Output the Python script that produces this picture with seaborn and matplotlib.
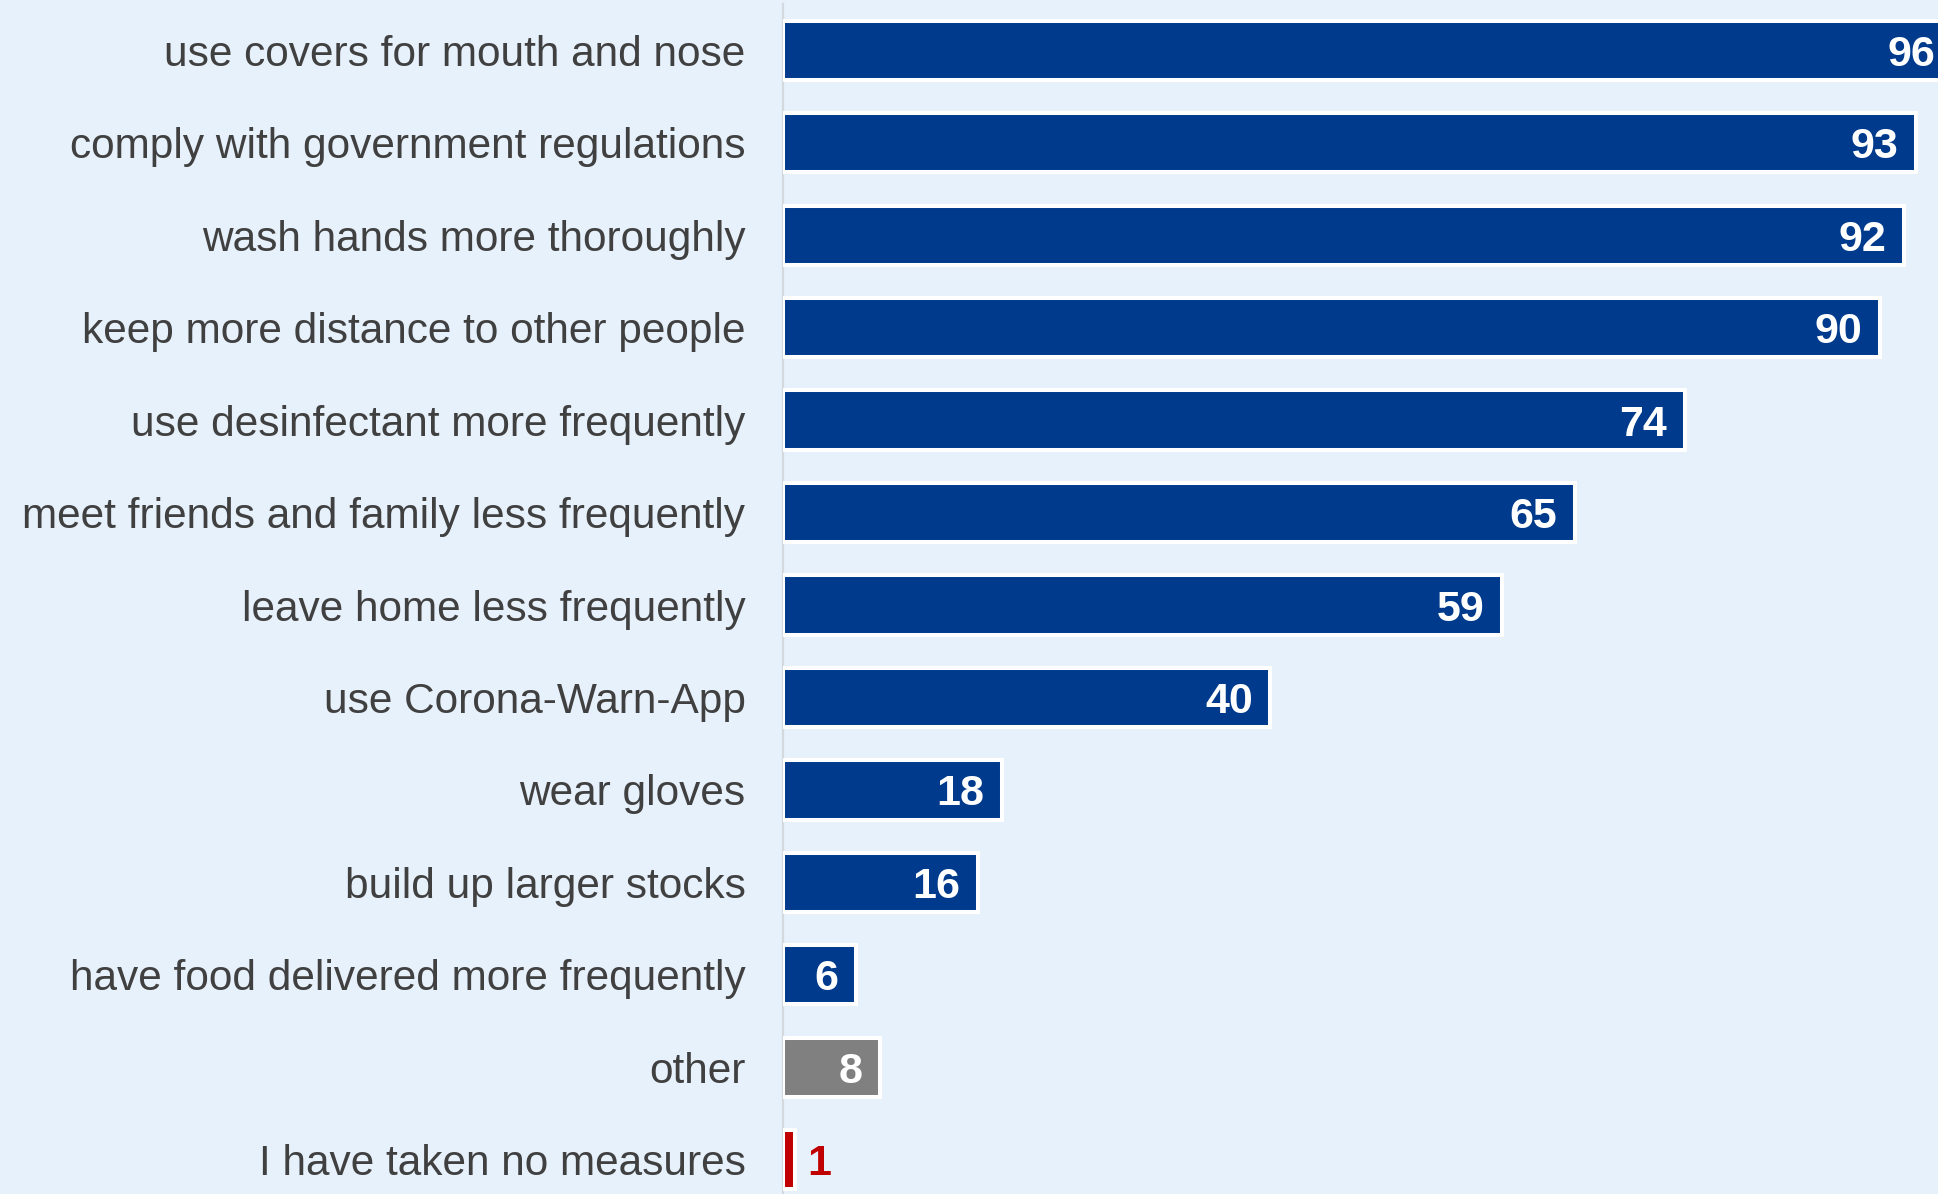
import matplotlib
matplotlib.use("Agg")
import matplotlib.pyplot as plt
import seaborn as sns
import pandas as pd

categories = [
    "use covers for mouth and nose",
    "comply with government regulations",
    "wash hands more thoroughly",
    "keep more distance to other people",
    "use desinfectant more frequently",
    "meet friends and family less frequently",
    "leave home less frequently",
    "use Corona-Warn-App",
    "wear gloves",
    "build up larger stocks",
    "have food delivered more frequently",
    "other",
    "I have taken no measures",
]
values = [96, 93, 92, 90, 74, 65, 59, 40, 18, 16, 6, 8, 1]
BLUE = "#003a8c"
GRAY = "#808080"
RED = "#c00000"
bar_colors = [BLUE] * 11 + [GRAY, RED]

BG = "#e7f1fb"
sns.set_theme(style="white")
plt.rcParams["font.family"] = ["Liberation Sans", "DejaVu Sans"]

df = pd.DataFrame({"category": categories, "value": values})

fig = plt.figure(figsize=(19.38, 11.94), dpi=100, facecolor=BG)
ax = fig.add_axes([783 / 1938, 0, 1 - 783 / 1938, 1 - 4 / 1194])
ax.set_facecolor(BG)

sns.barplot(data=df, x="value", y="category", hue="category",
            palette=bar_colors, legend=False, orient="h", width=0.64,
            saturation=1, edgecolor="white", linewidth=2.9, ax=ax, zorder=2)

ax.set_xlim(0, 94.8)
ax.set_ylim(12.37, -0.5)
ax.set_xlabel("")
ax.set_ylabel("")
ax.set_xticks([])
ax.tick_params(axis="y", length=0, pad=27, labelsize=30.5, labelcolor="#404040")

for s in ["top", "right", "bottom"]:
    ax.spines[s].set_visible(False)
ax.spines["left"].set_color("#d4d9df")
ax.spines["left"].set_linewidth(1.6)
ax.spines["left"].set_zorder(1)

for i, (v, c) in enumerate(zip(values, bar_colors)):
    if c == RED:
        ax.text(v + 1.0, i, f"{v}", ha="left", va="center_baseline",
                color=RED, fontsize=31, fontweight="bold")
    else:
        ax.text(v - 1.45, i, f"{v}", ha="right", va="center_baseline",
                color="white", fontsize=31, fontweight="bold", clip_on=False)

fig.savefig("out.png", dpi=100, facecolor=BG)
